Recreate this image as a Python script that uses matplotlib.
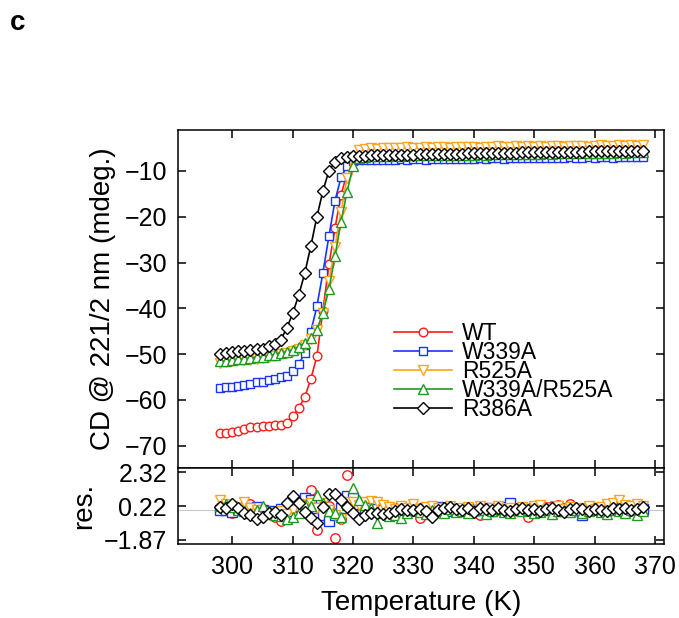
import matplotlib
matplotlib.use("Agg")
import matplotlib.pyplot as plt
import numpy as np

plt.rcParams["font.family"] = ["Liberation Sans", "DejaVu Sans"]

temperature = np.arange(298, 369)

wt = [-67.3, -67.2, -67.1, -66.8, -66.4, -66.0, -65.9, -65.8, -65.7, -65.6,
      -65.5, -65.0, -63.6, -61.8, -59.4, -55.4, -50.5, -40.5, -30.4, -22.5,
      -15.2, -10.5, -7.6, -6.9, -6.7, -6.6, -6.6, -6.5, -6.6, -6.5,
      -6.4, -6.5, -6.4, -6.4, -6.3, -6.4, -6.3, -6.3, -6.2, -6.3,
      -6.2, -6.2, -6.2, -6.1, -6.2, -6.1, -6.1, -6.1, -6.0, -6.1,
      -6.0, -6.0, -6.0, -5.9, -6.0, -5.9, -5.9, -5.9, -5.8, -5.9,
      -5.8, -5.8, -5.8, -5.7, -5.8, -5.7, -5.7, -5.7, -5.6, -5.7,
      -5.6]
w339a = [-57.4, -57.3, -57.1, -56.9, -56.8, -56.6, -56.2, -56.0, -55.6, -55.4,
         -55.0, -54.9, -53.8, -52.2, -49.8, -45.1, -39.6, -32.2, -24.2, -16.5,
         -11.4, -8.9, -7.9, -7.7, -7.6, -7.6, -7.5, -7.6, -7.5, -7.5,
         -7.4, -7.5, -7.4, -7.4, -7.5, -7.4, -7.3, -7.4, -7.3, -7.3,
         -7.4, -7.3, -7.3, -7.2, -7.3, -7.2, -7.2, -7.3, -7.2, -7.2,
         -7.1, -7.2, -7.1, -7.2, -7.1, -7.1, -7.2, -7.1, -7.0, -7.1,
         -7.1, -7.0, -7.1, -7.0, -7.0, -7.1, -7.0, -6.9, -7.0, -6.9,
         -6.9]
r525a = [-51.9, -51.8, -51.6, -51.4, -51.3, -51.2, -51.0, -50.9, -50.6, -50.4,
         -50.0, -49.8, -49.4, -48.8, -48.0, -46.8, -44.8, -41.0, -34.0, -26.5,
         -19.0, -11.5, -7.0, -5.4, -5.2, -5.0, -5.1, -4.9, -5.0, -4.9,
         -5.0, -4.8, -4.9, -5.0, -4.8, -4.9, -4.7, -4.8, -4.9, -4.7,
         -4.8, -4.7, -4.8, -4.9, -4.7, -4.8, -4.6, -4.7, -4.8, -4.6,
         -4.7, -4.6, -4.8, -4.6, -4.7, -4.5, -4.6, -4.7, -4.5, -4.6,
         -4.5, -4.7, -4.5, -4.4, -4.6, -4.5, -4.3, -4.5, -4.4, -4.5,
         -4.4]
w339a_r525a = [-51.6, -51.5, -51.3, -51.1, -51.0, -50.9, -50.7, -50.6, -50.3, -50.1,
               -49.7, -49.5, -49.1, -48.4, -47.6, -46.4, -44.7, -41.0, -35.8, -28.6,
               -21.1, -14.5, -8.9, -7.2, -6.9, -6.8, -6.8, -6.7, -6.7, -6.6,
               -6.7, -6.6, -6.6, -6.5, -6.6, -6.5, -6.5, -6.5, -6.4, -6.5,
               -6.4, -6.4, -6.4, -6.3, -6.4, -6.3, -6.3, -6.3, -6.2, -6.3,
               -6.2, -6.2, -6.2, -6.2, -6.1, -6.2, -6.1, -6.1, -6.1, -6.1,
               -6.0, -6.1, -6.0, -6.0, -6.0, -6.0, -5.9, -6.0, -5.9, -5.9,
               -5.9]
r386a = [-50.0, -49.8, -49.6, -49.4, -49.3, -49.2, -49.0, -48.8, -48.3, -47.7,
         -46.9, -44.4, -41.1, -37.1, -32.3, -26.4, -20.0, -14.4, -9.9, -8.0,
         -7.1, -6.9, -6.8, -6.7, -6.7, -6.6, -6.6, -6.5, -6.5, -6.5,
         -6.4, -6.4, -6.4, -6.3, -6.3, -6.3, -6.3, -6.2, -6.2, -6.2,
         -6.2, -6.1, -6.1, -6.1, -6.1, -6.0, -6.0, -6.0, -6.0, -6.0,
         -5.9, -5.9, -5.9, -5.9, -5.9, -5.8, -5.8, -5.8, -5.8, -5.8,
         -5.8, -5.7, -5.7, -5.7, -5.7, -5.7, -5.7, -5.6, -5.6, -5.6,
         -5.6]

res_wt = [0.15, 0.05, -0.23, 0.10, 0.20, 0.33, 0.15, 0.05, -0.20, -0.45,
          -0.70, -0.35, 0.10, 0.35, 0.75, 1.21, -1.26, -0.30, 0.20, -1.77,
          -0.55, 2.13, 0.90, 0.30, -0.10, 0.05, -0.15, 0.10, 0.00, -0.10,
          0.05, -0.20, -0.10, -0.54, 0.05, 0.10, -0.05, 0.15, 0.00, -0.10,
          0.10, 0.05, -0.15, -0.33, 0.05, 0.10, 0.00, -0.05, 0.15, 0.05,
          -0.10, -0.44, -0.20, 0.05, 0.15, 0.20, 0.28, 0.10, 0.33, 0.05,
          -0.05, 0.10, 0.00, -0.10, 0.15, 0.05, 0.20, 0.10, -0.05, 0.10,
          0.15]
res_w339a = [0.00, -0.05, -0.13, 0.05, 0.00, 0.10, 0.15, 0.00, -0.10, -0.20,
             0.05, -0.10, 0.20, 0.55, 0.69, 0.60, 0.10, -0.30, -0.72, -0.35,
             0.10, 0.84, 0.70, 0.35, 0.10, -0.10, 0.05, 0.00, -0.10, 0.05,
             0.10, 0.00, -0.05, 0.05, 0.10, -0.05, 0.15, 0.05, -0.10, 0.00,
             0.05, 0.10, -0.05, 0.00, 0.10, -0.10, 0.05, 0.15, 0.39, 0.00,
             -0.05, 0.05, 0.10, -0.05, 0.00, 0.05, 0.10, -0.10, 0.05, 0.00,
             -0.33, 0.05, 0.10, -0.05, 0.00, 0.10, 0.05, -0.10, 0.05, 0.10,
             0.05]
res_r525a = [0.60, 0.35, 0.20, 0.10, 0.50, 0.10, -0.05, -0.15, -0.30, -0.20,
             -0.10, -0.25, 0.00, 0.35, 0.25, 0.40, 0.10, 0.40, -0.05, -0.30,
             -0.60, 0.50, 0.45, 0.30, 0.45, 0.55, 0.50, 0.28, 0.15, 0.05,
             0.20, 0.10, 0.35, 0.05, 0.15, 0.25, 0.10, 0.00, 0.20, 0.05,
             0.10, 0.15, 0.00, 0.20, -0.05, 0.10, 0.25, 0.05, 0.10, -0.10,
             0.15, 0.05, 0.20, 0.30, -0.05, 0.10, 0.20, 0.05, 0.15, -0.05,
             0.10, 0.25, 0.05, 0.15, 0.35, 0.40, 0.59, 0.30, 0.20, 0.35,
             0.25]
res_w339a_r525a = [0.25, 0.33, 0.15, 0.00, -0.10, -0.20, -0.05, 0.25, -0.10, -0.35,
                   -0.40, -0.58, -0.45, -0.20, 0.30, 0.25, 0.92, 0.40, -0.10, -0.20,
                   -0.44, 0.30, 1.31, 0.60, 0.30, 0.10, -0.85, -0.20, -0.40, -0.30,
                   -0.54, -0.20, -0.05, -0.15, -0.25, 0.00, -0.10, -0.20, 0.05, -0.15,
                   -0.10, -0.20, 0.00, -0.05, -0.25, -0.10, 0.05, -0.15, -0.20, -0.05,
                   -0.10, 0.00, -0.20, -0.15, -0.05, -0.25, -0.10, 0.00, -0.15, -0.05,
                   -0.20, -0.10, 0.00, -0.15, -0.25, -0.05, -0.10, -0.20, -0.05, -0.30,
                   -0.10]
res_r386a = [0.14, 0.12, 0.33, 0.08, -0.19, -0.33, -0.60, -0.44, -0.19, -0.13,
             -0.33, 0.39, 0.84, 0.39, -0.13, -0.54, -0.81, 0.18, 0.96, 0.96,
             0.59, 0.18, -0.19, -0.60, -0.33, -0.23, -0.23, -0.27, -0.23, -0.07,
             0.02, -0.02, -0.05, 0.05, -0.10, -0.48, -0.02, 0.08, 0.15, 0.05,
             -0.05, 0.10, -0.12, 0.08, 0.02, -0.05, 0.12, 0.00, -0.08, 0.05,
             0.10, -0.03, 0.05, -0.10, 0.02, 0.08, -0.05, -0.12, 0.06, 0.10,
             0.02, -0.08, 0.05, -0.02, -0.10, 0.08, 0.02, 0.12, -0.02, 0.05,
             0.15]

labels = ["WT", "W339A", "R525A", "W339A/R525A", "R386A"]
curves = [wt, w339a, r525a, w339a_r525a, r386a]
residuals = [res_wt, res_w339a, res_r525a, res_w339a_r525a, res_r386a]
colors = ["#ff1a1a", "#1a33ff", "#ffa31a", "#1f991f", "black"]
markers = ["o", "s", "v", "^", "D"]
sizes = [6.2, 6.2, 7.2, 7.2, 6.0]

res_ticks = [-1.87, 0.22, 2.32]

fig = plt.figure(figsize=(6.79, 6.18), dpi=100)
ax = fig.add_axes([0.2622, 0.2427, 0.7157, 0.5469])
axr = fig.add_axes([0.2622, 0.1197, 0.7157, 0.1230], sharex=ax)

for y, r, c, m, s, lab in zip(curves, residuals, colors, markers, sizes, labels):
    ax.plot(temperature, y, color=c, lw=1.2, marker=m, ms=s, mfc="white",
            mec=c, mew=1.0, label=lab)
    axr.plot(temperature, r, ls="none", color=c, marker=m, ms=s + 0.6,
             mfc="white", mec=c, mew=1.0)

axr.axhline(0, color="#c8c8c8", lw=0.8, zorder=0)

ax.set_xlim(291, 371.5)
ax.set_ylim(-74.9, -1.05)
axr.set_ylim(-2.12, 2.57)
ax.set_yticks(np.arange(-70, 0, 10))
ax.set_xticks(np.arange(300, 371, 10))
axr.set_yticks(res_ticks)
axr.set_yticklabels(["\u22121.87", "0.22", "2.32"])

for a in (ax, axr):
    for sp in a.spines.values():
        sp.set_linewidth(1.1)
    a.tick_params(direction="in", top=True, right=True, length=6, width=1.1,
                  labelsize=18, pad=8)
ax.tick_params(labelbottom=False)

ax.set_ylabel("CD @ 221/2 nm (mdeg.)", fontsize=20, labelpad=6)
axr.set_ylabel("res.", fontsize=20, labelpad=5)
axr.set_xlabel("Temperature (K)", fontsize=20, labelpad=8)

ax.legend(loc="upper left", bbox_to_anchor=(0.42, 0.465), frameon=False,
          fontsize=16.5, handlelength=2.55, handletextpad=0.45,
          labelspacing=-0.18, borderpad=0)

fig.text(0.014, 0.962, "c", fontsize=20, fontweight="bold", va="center")

fig.savefig("out.png", dpi=100)
